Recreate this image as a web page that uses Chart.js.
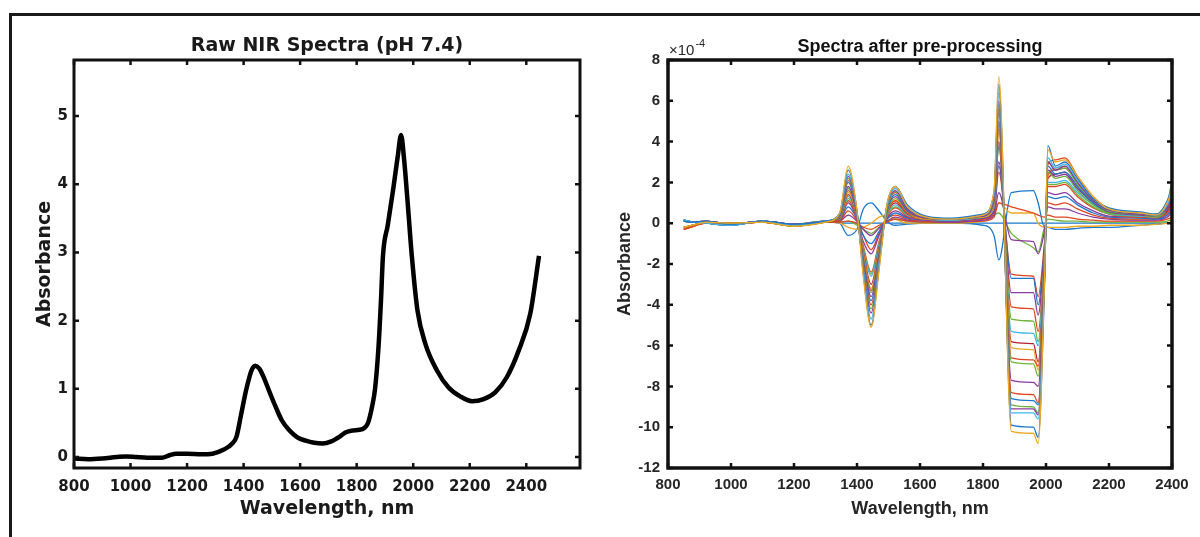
<!DOCTYPE html>
<html>
<head>
<meta charset="utf-8">
<script src="https://cdn.jsdelivr.net/npm/chart.js@4.4.1/dist/chart.umd.min.js"></script>
<style>
  html, body { margin: 0; padding: 0; background: #fff; }
  #page { position: relative; width: 1200px; height: 537px; overflow: hidden; }
  #frame { position: absolute; left: 9px; top: 13px; width: 1300px; height: 600px;
           border-left: 3px solid #1a1a1a; border-top: 3px solid #1a1a1a; }
  .box { position: absolute; top: 0; }
  #leftBox { left: 0; }
  #rightBox { left: 600px; }
</style>
</head>
<body>
<div id="page">
  <div id="frame"></div>
  <div class="box" id="leftBox"><canvas id="rawChart" width="600" height="537"></canvas></div>
  <div class="box" id="rightBox"><canvas id="procChart" width="600" height="537"></canvas></div>
</div>
<script>
// ---- raw spectrum (left panel) ----
const rawWavelengths = [800, 850, 900, 950, 985, 1020, 1060, 1110, 1140, 1160, 1200, 1250, 1290, 1330, 1360, 1375,
  1390, 1410, 1428, 1441, 1455, 1470, 1494, 1515, 1535, 1560, 1590, 1620, 1650, 1680, 1710, 1740, 1760, 1785,
  1820, 1840, 1855, 1865, 1877, 1886, 1893, 1910, 1930, 1945, 1957, 1968, 1980, 1995, 2015, 2043, 2084, 2125,
  2166, 2208, 2249, 2290, 2331, 2373, 2414, 2445];
const rawAbsorbance = [-0.02, -0.03, -0.02, 0.0, 0.01, 0.0, -0.01, -0.01, 0.03, 0.05, 0.05, 0.04, 0.05, 0.11, 0.2, 0.3,
  0.6, 1.0, 1.27, 1.34, 1.3, 1.18, 0.93, 0.72, 0.54, 0.4, 0.29, 0.24, 0.21, 0.2, 0.23, 0.3, 0.36, 0.39,
  0.41, 0.5, 0.75, 1.0, 1.6, 2.3, 2.95, 3.4, 3.95, 4.4, 4.72, 4.35, 3.75, 2.95, 2.15, 1.66, 1.27, 1.02,
  0.89, 0.82, 0.85, 0.95, 1.17, 1.56, 2.1, 2.95];
const rawXTicks = [800, 1000, 1200, 1400, 1600, 1800, 2000, 2200, 2400];
const rawYTicks = [0, 1, 2, 3, 4, 5];

// ---- pre-processed spectra (right panel), values in units of 1e-4 ----
const procWavelengths = [850, 880, 920, 1000, 1100, 1200, 1300, 1345, 1372, 1400, 1420, 1445, 1470, 1495, 1522,
  1560, 1620, 1700, 1800, 1835, 1850, 1890, 1960, 1975, 1995, 2006, 2030, 2060, 2100, 2150, 2200, 2300, 2350, 2385, 2400];

const spec01 = [-0.20, -0.10, 0.05, 0.00, 0.05, -0.15, 0.05, 0.5, 2.8, 0.6, -2.6, -5.1, -2.3, 0.9, 1.8, 0.8, 0.3, 0.2, 0.4, 1.6, 7.2, -10.2, -10.3, -10.8, -3.0, 3.6, 3.0, 3.1, 2.3, 1.3, 0.7, 0.5, 0.4, 1.0, 1.7];
const spec02 = [0.10, 0.05, 0.10, -0.05, 0.10, -0.05, 0.10, 0.5, 2.6, 0.6, -2.5, -5.0, -2.2, 0.9, 1.8, 0.9, 0.35, 0.25, 0.45, 1.5, 6.8, -9.9, -10.0, -10.5, -3.2, 3.8, 2.8, 3.0, 2.2, 1.2, 0.75, 0.55, 0.45, 1.1, 1.8];
const spec03 = [0.15, 0.05, 0.00, -0.10, 0.10, -0.10, 0.10, 0.45, 2.4, 0.55, -2.3, -4.7, -2.0, 0.8, 1.7, 0.8, 0.3, 0.2, 0.4, 1.4, 6.4, -9.3, -9.3, -9.6, -3.0, 3.2, 2.7, 2.9, 2.1, 1.2, 0.7, 0.5, 0.4, 0.9, 1.5];
const spec04 = [0.10, 0.05, 0.10, -0.05, 0.10, -0.05, 0.10, 0.4, 2.3, 0.5, -2.2, -4.4, -1.9, 0.8, 1.6, 0.7, 0.3, 0.2, 0.4, 1.3, 6.0, -9.1, -9.1, -9.4, -2.8, 3.0, 2.6, 2.8, 2.0, 1.1, 0.65, 0.45, 0.4, 0.8, 1.4];
const spec05 = [-0.20, -0.10, 0.05, 0.00, 0.05, -0.15, 0.05, 0.4, 2.2, 0.5, -2.1, -4.2, -1.8, 0.7, 1.55, 0.7, 0.3, 0.2, 0.4, 1.3, 5.8, -8.9, -9.0, -9.3, -2.8, 3.0, 2.6, 2.7, 1.9, 1.1, 0.6, 0.45, 0.35, 0.9, 2.2];
const spec06 = [-0.30, -0.15, 0.00, -0.05, 0.05, -0.10, 0.05, 0.4, 2.1, 0.5, -2.0, -4.0, -1.7, 0.7, 1.5, 0.7, 0.3, 0.2, 0.4, 1.2, 5.6, -8.3, -8.4, -8.8, -2.6, 2.9, 3.1, 3.2, 2.3, 1.3, 0.7, 0.5, 0.4, 0.8, 1.3];
const spec07 = [0.15, 0.05, 0.00, -0.10, 0.10, -0.10, 0.10, 0.35, 2.0, 0.45, -1.9, -3.8, -1.6, 0.6, 1.4, 0.65, 0.3, 0.2, 0.4, 1.2, 5.4, -8.6, -8.7, -8.9, -2.7, 2.8, 2.4, 2.5, 1.8, 1.0, 0.6, 0.45, 0.35, 0.8, 1.6];
const spec08 = [0.10, 0.05, 0.10, -0.05, 0.10, -0.05, 0.10, 0.35, 1.8, 0.4, -1.8, -3.6, -1.5, 0.6, 1.3, 0.6, 0.25, 0.2, 0.35, 1.1, 5.0, -7.7, -7.8, -8.0, -2.4, 2.6, 2.3, 2.4, 1.7, 1.0, 0.55, 0.4, 0.35, 0.7, 1.2];
const spec09 = [0.15, 0.05, 0.00, -0.10, 0.10, -0.10, 0.10, 0.3, 1.7, 0.4, -1.7, -3.4, -1.4, 0.5, 1.2, 0.55, 0.25, 0.2, 0.35, 1.0, 4.8, -6.8, -6.9, -7.5, -2.2, 2.5, 2.2, 2.3, 1.6, 0.9, 0.5, 0.4, 0.3, 0.7, 1.3];
const spec10 = [-0.30, -0.15, 0.00, -0.05, 0.05, -0.10, 0.05, 0.3, 1.6, 0.4, -1.6, -3.3, -1.4, 0.5, 1.1, 0.5, 0.25, 0.2, 0.35, 1.0, 4.6, -6.6, -6.7, -7.0, -2.1, 2.4, 2.6, 2.7, 2.0, 1.1, 0.6, 0.45, 0.35, 0.7, 1.1];
const spec11 = [0.10, 0.05, 0.10, -0.05, 0.10, -0.05, 0.10, 0.3, 1.5, 0.35, -1.5, -3.2, -1.3, 0.5, 1.1, 0.5, 0.2, 0.2, 0.3, 0.9, 4.4, -6.1, -6.2, -7.2, -2.2, 2.3, 2.7, 2.8, 2.0, 1.1, 0.6, 0.4, 0.3, 0.8, 1.2];
const spec12 = [-0.20, -0.10, 0.05, 0.00, 0.05, -0.15, 0.05, 0.25, 1.4, 0.3, -1.4, -3.0, -1.2, 0.45, 1.0, 0.45, 0.2, 0.2, 0.3, 0.9, 4.0, -5.8, -5.9, -6.8, -2.0, 2.2, 2.4, 2.5, 1.8, 1.0, 0.55, 0.4, 0.3, 0.6, 1.0];
const spec13 = [0.15, 0.05, 0.00, -0.10, 0.10, -0.10, 0.10, 0.25, 1.3, 0.3, -1.3, -2.6, -1.1, 0.4, 0.9, 0.4, 0.2, 0.15, 0.3, 0.8, 3.8, -5.3, -5.4, -6.0, -1.8, 2.0, 2.0, 2.1, 1.5, 0.9, 0.5, 0.35, 0.3, 0.6, 1.0];
const spec14 = [0.10, 0.05, 0.10, -0.05, 0.10, -0.05, 0.10, 0.2, 1.2, 0.3, -1.2, -2.5, -1.0, 0.35, 0.8, 0.4, 0.2, 0.15, 0.3, 0.8, 3.7, -4.7, -4.8, -5.8, -1.7, 1.9, 1.9, 2.0, 1.4, 0.8, 0.45, 0.35, 0.3, 0.6, 1.0];
const spec15 = [-0.30, -0.15, 0.00, -0.05, 0.05, -0.10, 0.05, 0.2, 1.1, 0.25, -1.1, -2.4, -0.9, 0.3, 0.75, 0.35, 0.2, 0.15, 0.3, 1.0, 3.7, -4.1, -4.2, -5.3, -1.6, 1.8, 1.8, 1.9, 1.3, 0.75, 0.45, 0.3, 0.3, 0.5, 0.9];
const spec16 = [0.15, 0.05, 0.00, -0.10, 0.10, -0.10, 0.10, 0.15, 1.0, 0.2, -0.9, -1.5, -0.6, 0.25, 0.6, 0.3, 0.15, 0.1, 0.25, 0.6, 3.0, -3.4, -3.4, -4.5, -1.3, 1.5, 1.4, 1.5, 1.0, 0.6, 0.35, 0.3, 0.25, 0.5, 0.8];
const spec17 = [0.10, 0.05, 0.10, -0.05, 0.10, -0.05, 0.10, 0.15, 0.8, 0.2, -0.6, -1.0, -0.4, 0.2, 0.5, 0.25, 0.15, 0.1, 0.25, 0.6, 2.8, -2.7, -2.7, -4.0, -1.2, 1.3, 1.2, 1.3, 0.9, 0.5, 0.3, 0.25, 0.2, 0.4, 0.7];
const spec18 = [-0.20, -0.10, 0.05, 0.00, 0.05, -0.15, 0.05, 0.1, 0.6, 0.1, -0.6, -1.3, -0.5, 0.2, 0.4, 0.2, 0.1, 0.1, 0.2, 0.5, 2.5, -2.5, -2.6, -3.6, -1.0, 1.0, 0.9, 1.0, 0.7, 0.4, 0.25, 0.2, 0.2, 0.4, 0.6];
const spec19 = [0.15, 0.05, 0.00, -0.10, 0.10, -0.10, 0.10, 0.1, 0.4, 0.1, -0.3, -0.6, -0.25, 0.1, 0.3, 0.15, 0.1, 0.05, 0.15, 0.4, 1.5, -0.8, -0.9, -1.5, -0.4, 0.8, 0.7, 0.7, 0.5, 0.3, 0.2, 0.15, 0.15, 0.3, 0.5];
const spec20 = [-0.30, -0.15, 0.00, -0.05, 0.05, -0.10, 0.05, 0.05, 0.1, 0.0, -0.2, -0.3, -0.1, 0.05, 0.2, 0.1, 0.05, 0.05, 0.1, 0.3, 1.0, 0.8, 0.5, 0.4, 0.3, 0.4, 0.3, 0.3, 0.2, 0.15, 0.1, 0.1, 0.1, 0.2, 0.3];
const spec21 = [0.10, 0.05, 0.10, -0.05, 0.10, -0.05, 0.10, 0.05, 0.1, -0.1, -0.3, -0.5, -0.2, 0.1, 0.2, 0.1, 0.05, 0.05, 0.2, 0.4, 0.5, -0.5, -1.2, -1.4, -0.2, 0.2, 0.15, 0.1, 0.1, 0.05, 0.05, 0.05, 0.05, 0.1, 0.2];
const spec22 = [-0.20, -0.10, 0.05, 0.00, 0.05, -0.15, 0.05, 0.0, -0.2, -0.3, -0.2, 0.0, 0.3, 0.4, 0.2, 0.0, 0.0, 0.0, 0.1, 0.5, 1.0, 0.5, 0.5, 0.0, -0.2, -0.2, -0.2, -0.2, -0.15, -0.15, -0.1, -0.1, -0.05, 0.0, 0.1];
const spec23 = [0.15, 0.05, 0.00, -0.10, 0.10, -0.10, 0.10, 0.0, -0.6, -0.3, 0.7, 1.0, 0.6, 0.1, -0.1, -0.05, 0.0, 0.0, -0.1, -0.6, -1.8, 1.5, 1.6, 1.0, -0.2, -0.2, -0.3, -0.3, -0.25, -0.2, -0.2, -0.1, -0.05, 0.0, 0.0];
const spec24 = [0.10, 0.05, 0.10, -0.05, 0.10, -0.05, 0.10, 0.0, 0.0, 0.0, 0.0, 0.0, 0.0, 0.0, 0.0, 0.0, 0.0, 0.0, 0.0, 0.0, 0.0, 0.0, 0.0, 0.0, 0.0, 0.0, 0.0, 0.0, 0.0, 0.0, 0.0, 0.0, 0.0, 0.0, 0.0];

const spectra = [spec01, spec02, spec03, spec04, spec05, spec06, spec07, spec08, spec09, spec10, spec11, spec12,
  spec13, spec14, spec15, spec16, spec17, spec18, spec19, spec20, spec21, spec22, spec23, spec24];
const procXTicks = [800, 1000, 1200, 1400, 1600, 1800, 2000, 2200, 2400];
const procYTicks = [-12, -10, -8, -6, -4, -2, 0, 2, 4, 6, 8];

// matlab-ish line colours
const BLUE = '#1a78cc', RED = '#e0451f', YELLOW = '#f0a820', PURPLE = '#8a3a9e',
      GREEN = '#6db33a', CYAN = '#3cb6ee', DARKRED = '#b8202f';
const spectrumColors = [YELLOW, BLUE, CYAN, PURPLE, GREEN, RED, BLUE, PURPLE, GREEN, RED, YELLOW, DARKRED,
  CYAN, GREEN, RED, PURPLE, BLUE, RED, PURPLE, RED, GREEN, YELLOW, BLUE, BLUE];

// inward tick marks on all four sides plus the axes box
const axesBox = {
  id: 'axesBox',
  afterDraw(chart, args, opts) {
    const {ctx, chartArea: a, scales} = chart;
    const len = opts.tickLength;
    ctx.save();
    ctx.strokeStyle = opts.color;
    ctx.lineWidth = opts.tickWidth;
    ctx.beginPath();
    scales.x.ticks.forEach(t => {
      const px = scales.x.getPixelForValue(t.value);
      ctx.moveTo(px, a.bottom); ctx.lineTo(px, a.bottom - len);
      ctx.moveTo(px, a.top); ctx.lineTo(px, a.top + len);
    });
    scales.y.ticks.forEach(t => {
      const py = scales.y.getPixelForValue(t.value);
      ctx.moveTo(a.left, py); ctx.lineTo(a.left + len, py);
      ctx.moveTo(a.right, py); ctx.lineTo(a.right - len, py);
    });
    ctx.stroke();
    ctx.lineWidth = opts.boxWidth;
    ctx.strokeRect(a.left, a.top, a.right - a.left, a.bottom - a.top);
    ctx.restore();
  }
};

// the "x10^-4" multiplier above the y axis
const axisExponent = {
  id: 'axisExponent',
  afterDraw(chart, args, opts) {
    if (!opts.base) return;
    const {ctx, chartArea: a} = chart;
    ctx.save();
    ctx.fillStyle = opts.color;
    ctx.textAlign = 'left';
    ctx.textBaseline = 'alphabetic';
    ctx.font = '15px "Liberation Sans"';
    ctx.fillText(opts.base, a.left + 1, a.top - 5);
    const w = ctx.measureText(opts.base).width;
    ctx.font = '11px "Liberation Sans"';
    ctx.fillText(opts.power, a.left + 1 + w + 1, a.top - 13);
    ctx.restore();
  }
};

const exactTicks = list => scale => { scale.ticks = list.map(v => ({value: v})); };

// ---- left chart ----
const rawFont = 'DejaVu Sans';
const rawInk = '#1a1a1a';
new Chart(document.getElementById('rawChart'), {
  type: 'line',
  data: {
    datasets: [{
      data: rawWavelengths.map((w, i) => ({x: w, y: rawAbsorbance[i]})),
      borderColor: '#000',
      borderWidth: 4.5,
      pointRadius: 0,
      cubicInterpolationMode: 'monotone',
      fill: false
    }]
  },
  options: {
    responsive: false,
    animation: false,
    layout: {padding: {top: 34.6, left: 0, right: 20, bottom: 0}},
    plugins: {
      legend: {display: false},
      tooltip: {enabled: false},
      title: {
        display: true,
        text: 'Raw NIR Spectra (pH 7.4)',
        fullSize: false,
        color: rawInk,
        font: {family: rawFont, size: 19, weight: 'bold', lineHeight: 1.2},
        padding: {top: 0, bottom: 2.6}
      },
      axesBox: {color: '#111', tickLength: 5, tickWidth: 2.5, boxWidth: 3}
    },
    scales: {
      x: {
        type: 'linear', min: 800, max: 2590,
        afterFit(s) { s.height = 69; },
        afterBuildTicks: exactTicks(rawXTicks),
        grid: {display: false, drawTicks: false},
        border: {display: false},
        ticks: {padding: 10, color: rawInk, maxRotation: 0, autoSkip: false,
                font: {family: rawFont, size: 15, weight: 'bold'}, callback: v => String(v)},
        title: {display: true, text: 'Wavelength, nm', color: rawInk,
                font: {family: rawFont, size: 19, weight: 'bold', lineHeight: 1.2},
                padding: {top: 0, bottom: 16.6}}
      },
      y: {
        type: 'linear', min: -0.16, max: 5.82,
        afterFit(s) { s.width = 74; },
        afterBuildTicks: exactTicks(rawYTicks),
        grid: {display: false, drawTicks: false},
        border: {display: false},
        ticks: {padding: 6, color: rawInk, autoSkip: false,
                font: {family: rawFont, size: 15, weight: 'bold'}, callback: v => String(v)},
        title: {display: true, text: 'Absorbance', color: rawInk,
                font: {family: rawFont, size: 19, weight: 'bold', lineHeight: 1.2},
                padding: {top: 33.6, bottom: 0}}
      }
    }
  },
  plugins: [axesBox]
});

// ---- right chart ----
const procFont = 'Liberation Sans';
const procInk = '#262626';
new Chart(document.getElementById('procChart'), {
  type: 'line',
  data: {
    datasets: spectra.map((vals, k) => ({
      data: procWavelengths.map((w, i) => ({x: w, y: vals[i]})),
      borderColor: spectrumColors[k],
      borderWidth: 1.3,
      pointRadius: 0,
      cubicInterpolationMode: 'monotone',
      fill: false
    }))
  },
  options: {
    responsive: false,
    animation: false,
    layout: {padding: {top: 36.2, left: 0, right: 28, bottom: 0}},
    plugins: {
      legend: {display: false},
      tooltip: {enabled: false},
      title: {
        display: true,
        text: 'Spectra after pre-processing',
        fullSize: false,
        color: '#111',
        font: {family: procFont, size: 18, weight: 'bold', lineHeight: 1.2},
        padding: {top: 0, bottom: 2.2}
      },
      axesBox: {color: '#111', tickLength: 5, tickWidth: 2.5, boxWidth: 3.5},
      axisExponent: {base: '\u00d710', power: '-4', color: procInk}
    },
    scales: {
      x: {
        type: 'linear', min: 800, max: 2400,
        afterFit(s) { s.height = 69; },
        afterBuildTicks: exactTicks(procXTicks),
        grid: {display: false, drawTicks: false},
        border: {display: false},
        ticks: {padding: 8, color: procInk, maxRotation: 0, autoSkip: false,
                font: {family: procFont, size: 15, weight: 'bold'}, callback: v => String(v)},
        title: {display: true, text: 'Wavelength, nm', color: procInk,
                font: {family: procFont, size: 18, weight: 'bold', lineHeight: 1.2},
                padding: {top: 0, bottom: 17.2}}
      },
      y: {
        type: 'linear', min: -12, max: 8,
        afterFit(s) { s.width = 68; },
        afterBuildTicks: exactTicks(procYTicks),
        grid: {display: false, drawTicks: false},
        border: {display: false},
        ticks: {padding: 8, color: procInk, autoSkip: false,
                font: {family: procFont, size: 15, weight: 'bold'}, callback: v => String(v)},
        title: {display: true, text: 'Absorbance', color: procInk,
                font: {family: procFont, size: 18, weight: 'bold', lineHeight: 1.2},
                padding: {top: 14.2, bottom: 0}}
      }
    }
  },
  plugins: [axesBox, axisExponent]
});
</script>
</body>
</html>
